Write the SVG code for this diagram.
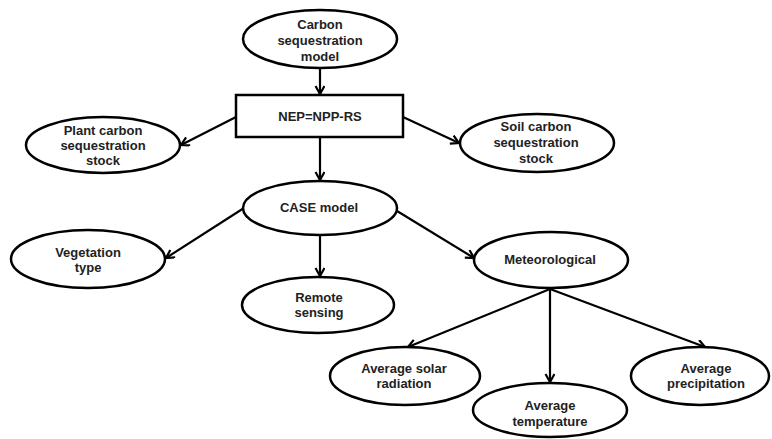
<svg xmlns="http://www.w3.org/2000/svg" width="772" height="439" viewBox="0 0 772 439">
<defs>
<marker id="arr" markerWidth="12" markerHeight="12" refX="9" refY="5" orient="auto" markerUnits="userSpaceOnUse">
<path d="M1,0.5 L9,5 L1,9.5" fill="none" stroke="#000" stroke-width="2.2"/>
</marker>
</defs>
<style>
.n{fill:#fff;stroke:#000;stroke-width:2.5}
.t{font-family:"Liberation Sans",Arial,sans-serif;font-weight:bold;font-size:13px;fill:#222;text-anchor:middle}
.e{stroke:#000;stroke-width:2.2;fill:none;marker-end:url(#arr)}
</style>
<rect width="772" height="439" fill="#fff"/>
<g id="connectors">
<line class="e" x1="320" y1="68" x2="320" y2="94"/>
<line class="e" x1="236" y1="117" x2="181" y2="145"/>
<line class="e" x1="403" y1="117" x2="459" y2="143"/>
<line class="e" x1="320" y1="137" x2="320" y2="180"/>
<line class="e" x1="244" y1="208" x2="166" y2="258"/>
<line class="e" x1="320" y1="235" x2="320" y2="276"/>
<line class="e" x1="397" y1="211" x2="474" y2="258"/>
<line class="e" x1="550" y1="289" x2="408" y2="347"/>
<line class="e" x1="550" y1="289" x2="550" y2="382"/>
<line class="e" x1="550" y1="289" x2="705" y2="347"/>
</g>
<g id="carbon-model">
<ellipse class="n" cx="320" cy="39" rx="77" ry="29"/>
<text class="t" x="320" y="29">Carbon</text>
<text class="t" x="320" y="45">sequestration</text>
<text class="t" x="320" y="61">model</text>
</g>
<g id="nep">
<rect class="n" x="236" y="95" width="167" height="42"/>
<text class="t" x="320" y="121">NEP=NPP-RS</text>
</g>
<g id="plant">
<ellipse class="n" cx="103" cy="145" rx="77" ry="28"/>
<text class="t" x="103" y="135">Plant carbon</text>
<text class="t" x="103" y="150">sequestration</text>
<text class="t" x="103" y="165">stock</text>
</g>
<g id="soil">
<ellipse class="n" cx="537" cy="143" rx="77" ry="29"/>
<text class="t" x="536" y="131">Soil carbon</text>
<text class="t" x="536" y="147">sequestration</text>
<text class="t" x="536" y="163">stock</text>
</g>
<g id="case">
<ellipse class="n" cx="320" cy="208" rx="77" ry="27"/>
<text class="t" x="319" y="212">CASE model</text>
</g>
<g id="vegetation">
<ellipse class="n" cx="88" cy="259" rx="77" ry="29"/>
<text class="t" x="88" y="257">Vegetation</text>
<text class="t" x="88" y="272">type</text>
</g>
<g id="remote">
<ellipse class="n" cx="318" cy="305" rx="76" ry="28"/>
<text class="t" x="319" y="302">Remote</text>
<text class="t" x="319" y="317">sensing</text>
</g>
<g id="meteo">
<ellipse class="n" cx="551" cy="260" rx="77" ry="28"/>
<text class="t" x="550" y="264">Meteorological</text>
</g>
<g id="solar">
<ellipse class="n" cx="405" cy="376" rx="75" ry="29"/>
<text class="t" x="404" y="373">Average solar</text>
<text class="t" x="404" y="388">radiation</text>
</g>
<g id="temperature">
<ellipse class="n" cx="550" cy="410" rx="77" ry="27"/>
<text class="t" x="550" y="410">Average</text>
<text class="t" x="550" y="426">temperature</text>
</g>
<g id="precipitation">
<ellipse class="n" cx="700" cy="376" rx="69" ry="29"/>
<text class="t" x="706" y="373">Average</text>
<text class="t" x="706" y="388">precipitation</text>
</g>
</svg>
